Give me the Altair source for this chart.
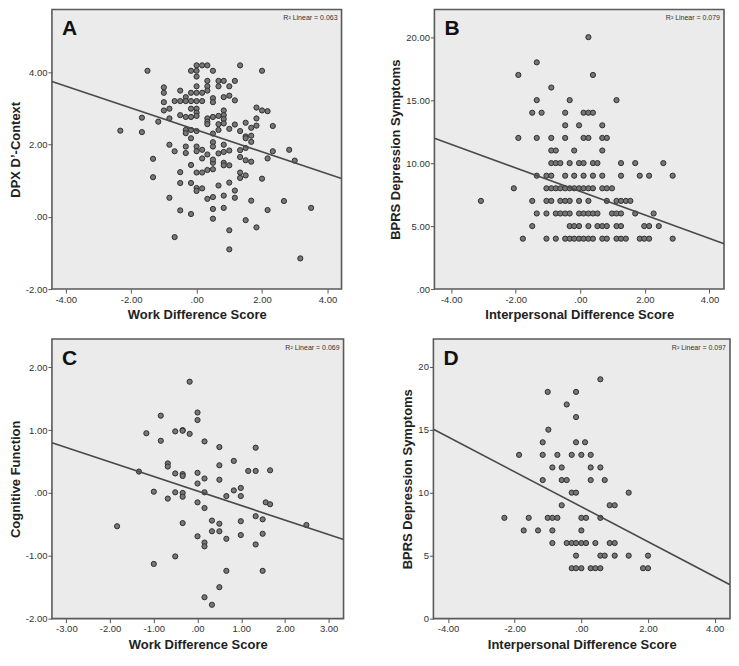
import altair as alt
import pandas as pd

# ---------------- Panel A: Work Difference Score vs DPX D'-Context ----------------
A_x = [-1.50, 0.00, 0.17, 0.33, 1.33, 2.00, -0.17, 0.00, 0.50, 0.00,
       0.33, 0.67, 0.83, 1.17, 0.00, 0.33, 0.67, 1.00, -1.00, -1.00,
       -0.50, -0.17, 0.00, 0.17, 0.33, 0.83, 1.00, -0.33, 0.50, 0.50,
       1.17, -1.00, -0.67, -0.50, -0.33, -0.17, 0.00, 0.17, -1.00, -0.83,
       -0.17, 0.00, 0.00, 0.00, -0.50, -0.33, -0.17, 0.83, 0.83, 0.83,
       0.33, 0.50, 0.67, 1.83, 2.00, 2.17, -1.67, -1.17, -0.83, -2.33,
       -1.67, -0.33, -0.33, -0.17, 0.00, 0.33, 0.33, 0.67, 0.83, 1.17,
       1.00, 1.33, 1.50, 1.83, 1.83, 1.67, 2.33, 1.50, 1.67, 1.67,
       1.50, 0.50, 0.67, -0.17, -0.83, -0.67, -0.33, -0.33, 0.00, 0.00,
       0.17, 0.17, 0.33, 0.50, 0.50, 0.67, 0.83, 0.83, 1.00, 1.33,
       1.50, 1.33, 1.50, 1.67, 2.33, 2.17, 2.83, 3.00, -1.33, -1.33,
       -0.17, 0.00, 0.17, 0.33, 0.50, 0.50, 0.50, 0.83, 0.83, 1.00,
       -0.50, -0.50, -0.17, 1.33, 1.33, 1.50, 2.00, 0.00, 0.00, 0.17,
       0.67, 1.00, 1.17, -0.83, 0.33, 0.50, 0.83, 1.17, 1.67, 2.67,
       -0.50, -0.17, 0.50, 0.83, 2.17, 3.50, -0.67, 0.50, 1.50, 1.83,
       1.00, 1.00, 3.17]
A_y = [4.05, 4.20, 4.20, 4.20, 4.20, 4.05, 4.05, 4.05, 4.05, 3.89,
       3.77, 3.77, 3.77, 3.77, 3.62, 3.62, 3.62, 3.62, 3.59, 3.44,
       3.50, 3.44, 3.44, 3.44, 3.50, 3.32, 3.36, 3.32, 3.29, 3.18,
       3.23, 3.18, 3.21, 3.21, 3.21, 3.21, 3.21, 3.21, 2.95, 3.00,
       3.00, 3.00, 2.89, 2.80, 2.82, 2.77, 2.77, 2.95, 2.82, 2.71,
       2.73, 2.77, 2.80, 3.03, 2.95, 2.93, 2.75, 2.64, 2.73, 2.39,
       2.35, 2.41, 2.32, 2.41, 2.38, 2.64, 2.57, 2.57, 2.59, 2.56,
       2.44, 2.38, 2.61, 2.73, 2.53, 2.47, 2.52, 2.23, 2.25, 2.08,
       2.18, 2.31, 2.41, 2.18, 2.00, 1.82, 1.95, 1.77, 1.95, 1.82,
       1.86, 1.62, 1.73, 2.07, 1.95, 1.76, 2.00, 1.80, 1.84, 1.85,
       1.91, 1.66, 1.57, 1.53, 1.82, 1.62, 1.86, 1.56, 1.61, 1.10,
       1.44, 1.23, 1.23, 1.30, 1.32, 1.50, 1.59, 1.50, 1.43, 1.43,
       1.24, 0.94, 0.94, 1.23, 1.08, 1.15, 1.06, 0.80, 0.72, 0.79,
       0.87, 0.95, 0.73, 0.53, 0.50, 0.55, 0.59, 0.53, 0.45, 0.44,
       0.18, 0.08, 0.22, 0.25, 0.19, 0.25, -0.56, -0.05, -0.09, -0.29,
       -0.37, -0.90, -1.15]
A_fit = (2.41, -0.304)

# ---------------- Panel B: Interpersonal Difference Score vs BPRS Depression ----------------
B_x = [0.25,
       -1.35,
       -1.92, 0.39,
       -0.90,
       -1.35, -0.33, 1.12,
       -1.49, -1.20, -0.47, 0.10, 0.25, 0.39,
       -0.47, -0.04, 0.68,
       -1.92, -1.35, -0.90, -0.47, 0.10, 0.25, 0.68, 0.82,
       -0.90, -0.76, -0.19, 0.68,
       -0.90, -0.76, -0.62, -0.33, -0.04, 0.10, 0.39, 0.53, 1.26, 1.70, 2.57,
       -1.35, -1.05, -0.90, -0.47, -0.19, 0.10, 0.39, 0.68, 1.26, 1.84, 2.13, 2.86,
       -2.06, -1.05, -0.90, -0.76, -0.62, -0.47, -0.33, -0.19, -0.04, 0.10, 0.25, 0.39, 0.68, 0.82, 0.98,
       -3.08, -1.49, -1.05, -0.90, -0.62, -0.47, -0.33, -0.04, 0.25, 0.82, 1.12, 1.26, 1.41, 1.55,
       -1.35, -1.05, -0.76, -0.62, -0.47, -0.33, -0.04, 0.10, 0.25, 0.39, 0.53, 0.98, 1.12, 1.26, 1.70, 2.27,
       -1.49, -0.33, -0.19, -0.04, 0.25, 0.53, 0.68, 0.82, 1.12, 1.26, 1.98, 2.13, 2.43,
       -1.78, -1.05, -0.76, -0.47, -0.33, -0.19, -0.04, 0.10, 0.25, 0.39, 0.68, 0.82, 1.12, 1.26, 1.41, 1.84, 1.98, 2.13, 2.86]
B_y = [20,
       18,
       17, 17,
       16,
       15, 15, 15,
       14, 14, 14, 14, 14, 14,
       13, 13, 13,
       12, 12, 12, 12, 12, 12, 12, 12,
       11, 11, 11, 11,
       10, 10, 10, 10, 10, 10, 10, 10, 10, 10, 10,
       9, 9, 9, 9, 9, 9, 9, 9, 9, 9, 9, 9,
       8, 8, 8, 8, 8, 8, 8, 8, 8, 8, 8, 8, 8, 8, 8,
       7, 7, 7, 7, 7, 7, 7, 7, 7, 7, 7, 7, 7, 7,
       6, 6, 6, 6, 6, 6, 6, 6, 6, 6, 6, 6, 6, 6, 6, 6,
       5, 5, 5, 5, 5, 5, 5, 5, 5, 5, 5, 5, 5,
       4, 4, 4, 4, 4, 4, 4, 4, 4, 4, 4, 4, 4, 4, 4, 4, 4, 4, 4]
B_fit = (7.75, -0.934)

# ---------------- Panel C: Work Difference Score vs Cognitive Function ----------------
C_x = [-0.18, 0.00, 0.00, -0.84, -1.17, -0.51, -0.34, -0.34, -0.18, -0.84,
       0.16, 0.50, 1.33, 0.83, -0.68, -0.68, -0.51, -0.34, -0.34, 0.00,
       0.16, 0.50, 0.50, 1.16, 1.33, 1.66, -1.34, 0.00, -1.00, -0.51,
       -0.34, -0.34, 0.16, -0.68, 0.66, 0.83, 0.99, 0.99, 0.00, 0.16,
       1.56, 1.66, 1.33, 1.49, -1.84, -0.34, 0.33, 0.50, 0.50, 0.33,
       0.99, 0.00, 0.66, 0.99, 1.49, 1.33, 0.16, 0.16, 2.49, -0.51,
       -1.00, 0.66, 1.49, 0.50, 0.16, 0.33]
C_y = [1.77, 1.28, 1.16, 1.23, 0.95, 0.98, 1.00, 0.99, 0.94, 0.83,
       0.82, 0.73, 0.72, 0.51, 0.47, 0.42, 0.31, 0.30, 0.27, 0.32,
       0.23, 0.44, 0.21, 0.35, 0.35, 0.36, 0.34, 0.15, 0.02, 0.01,
       0.00, -0.06, 0.01, -0.09, -0.05, 0.04, 0.08, -0.05, -0.15, -0.24,
       -0.15, -0.18, -0.37, -0.42, -0.53, -0.48, -0.44, -0.49, -0.61, -0.61,
       -0.45, -0.69, -0.73, -0.67, -0.65, -0.82, -0.79, -0.85, -0.51, -1.01,
       -1.13, -1.24, -1.24, -1.50, -1.66, -1.78]
C_fit = (0.03, -0.231)

# ---------------- Panel D: Interpersonal Difference Score vs BPRS Depression ----------------
D_x = [0.57,
       -1.01, -0.16,
       -0.44,
       -0.16,
       -0.99,
       -1.16, -0.16, 0.11,
       -1.87, -1.16, -0.72, -0.29, 0.00, 0.28,
       -0.87, -0.59, 0.28, 0.57,
       -1.16, -0.59, -0.44, 0.28, 0.70,
       -0.29, -0.16, 1.42,
       -0.59, 0.85, 1.00,
       -2.31, -1.58, -1.01, -0.87, -0.72, 0.00, 0.14, 0.57,
       -1.73, -1.30, -0.87, 0.00,
       -0.87, -0.44, -0.29, -0.16, 0.00, 0.14, 0.42, 0.85, 1.00,
       -0.16, 0.57, 0.70, 1.00, 1.42, 2.00,
       -0.29, -0.16, 0.00, 0.28, 0.42, 0.57, 1.85, 2.00]
D_y = [19,
       18, 18,
       17,
       16,
       15,
       14, 14, 14,
       13, 13, 13, 13, 13, 13,
       12, 12, 12, 12,
       11, 11, 11, 11, 11,
       10, 10, 10,
       9, 9, 9,
       8, 8, 8, 8, 8, 8, 8, 8,
       7, 7, 7, 7,
       6, 6, 6, 6, 6, 6, 6, 6, 6,
       5, 5, 5, 5, 5, 5,
       4, 4, 4, 4, 4, 4, 4, 4]
D_fit = (8.88, -1.387)

FONT = "Liberation Sans"
fmt2 = "datum.value == 0 ? '.00' : replace(format(datum.value, '.2f'), '\u2212', '-')"
fmt0 = "format(datum.value, 'd')"


def panel(xs, ys, fit, xdom, ydom, xticks, yticks, xtitle, ytitle, letter, r2,
          w, h, yfmt=fmt2):
    pts = pd.DataFrame({"x": xs, "y": ys})
    b0, b1 = fit
    line = pd.DataFrame({"x": xdom, "y": [b0 + b1 * v for v in xdom]})
    xsc = alt.Scale(domain=xdom, nice=False, zero=False)
    ysc = alt.Scale(domain=ydom, nice=False, zero=False)
    xax = alt.Axis(values=xticks, labelExpr=fmt2, title=xtitle, titlePadding=5)
    yax = alt.Axis(values=yticks, labelExpr=yfmt, title=ytitle, titlePadding=3)
    scatter = alt.Chart(pts).mark_circle(
        size=27, color="#767676", stroke="#303030", strokeWidth=1, opacity=1
    ).encode(x=alt.X("x:Q", scale=xsc, axis=xax), y=alt.Y("y:Q", scale=ysc, axis=yax))
    fitline = alt.Chart(line).mark_line(color="#4a4a4a", strokeWidth=1.6, clip=True).encode(
        x="x:Q", y="y:Q")
    lab = alt.Chart(pd.DataFrame({"t": [letter]})).mark_text(
        font=FONT, fontSize=21, fontWeight="bold", color="#111", align="left",
        baseline="alphabetic").encode(text="t:N", x=alt.value(10), y=alt.value(26))
    r2t = alt.Chart(pd.DataFrame({"t": [r2]})).mark_text(
        font=FONT, fontSize=7, color="#333333", align="right",
        baseline="alphabetic").encode(text="t:N", x=alt.value(w - 4), y=alt.value(11))
    return alt.layer(scatter, fitline, lab, r2t).properties(width=w, height=h)


H = 280
pA = panel(A_x, A_y, A_fit, [-4.42, 4.43], [-2.0, 5.75], [-4, -2, 0, 2, 4], [-2, 0, 2, 4],
           "Work Difference Score", "DPX D\u2019-Context", "A", "R\u00b2 Linear = 0.063", 290, H)
pB = panel(B_x, B_y, B_fit, [-4.52, 4.45], [0, 22.2], [-4, -2, 0, 2, 4], [0, 5, 10, 15, 20],
           "Interpersonal Difference Score", "BPRS Depression Symptoms", "B",
           "R\u00b2 Linear = 0.079", 290, H)
pC = panel(C_x, C_y, C_fit, [-3.33, 3.34], [-2.0, 2.45], [-3, -2, -1, 0, 1, 2, 3], [-2, -1, 0, 1, 2],
           "Work Difference Score", "Cognitive Function", "C", "R\u00b2 Linear = 0.069", 292, H)
pD = panel(D_x, D_y, D_fit, [-4.44, 4.46], [0, 22.2], [-4, -2, 0, 2, 4], [0, 5, 10, 15, 20],
           "Interpersonal Difference Score", "BPRS Depression Symptoms", "D",
           "R\u00b2 Linear = 0.097", 297, H, yfmt=fmt0)

row1 = alt.hconcat(pA, pB, spacing=46)
row2 = alt.hconcat(pC, pD, spacing=56)
chart = alt.vconcat(row1, row2, spacing=15).properties(
    padding={"left": 0, "top": 0, "right": 0, "bottom": 0}
).configure(background="white").configure_view(
    fill="#ebebeb", stroke="#5a5a5a", strokeWidth=1.6
).configure_axis(
    domain=False, grid=False, tickColor="#555", tickSize=4, tickWidth=1,
    labelFont=FONT, labelFontSize=9.5, labelColor="#333", labelPadding=1,
    titleFont=FONT, titleFontSize=13, titleFontWeight="bold", titleColor="#222"
)

chart.save("out.html", embed_options={"renderer": "svg", "actions": False})
